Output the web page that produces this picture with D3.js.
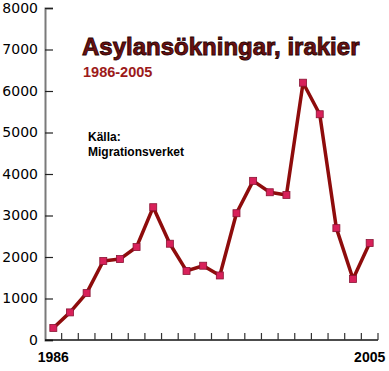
<!DOCTYPE html>
<html>
<head>
<meta charset="utf-8">
<script src="https://cdn.jsdelivr.net/npm/d3@7"></script>
<style>
  body { margin: 0; background: #fff; }
  svg { display: block; }
</style>
</head>
<body>
<div id="chart_div"></div>
<script>
// data
var years = d3.range(1986, 2006);
var applications = [290, 665, 1130, 1905, 1950, 2240, 3200, 2320, 1665, 1790,
                    1555, 3055, 3835, 3560, 3495, 6200, 5440, 2695, 1470, 2335];
var yTicks = [0, 1000, 2000, 3000, 4000, 5000, 6000, 7000, 8000];
var xLabels = [1986, 2005];

var title = 'Asylansökningar, irakier',
    subtitle = '1986-2005',
    source = ['Källa:', 'Migrationsverket'];

function draw_chart(){
  var width = 389, height = 371;
  var plot = {left: 45, right: 378, top: 8, bottom: 340};

  var data = years.map(function(y, i){ return {year: y, value: applications[i]}; });

  var svg = d3.select('#chart_div').append('svg')
    .attr('width', width)
    .attr('height', height);

  var xScale = d3.scaleBand().domain(years).range([plot.left, plot.right]).padding(0);
  var yScale = d3.scaleLinear().domain([0, 8000]).range([plot.bottom, plot.top]);

  // Y axis (ticks point into the plot)
  var yAxis = svg.append('g')
    .attr('class', 'yaxis')
    .attr('transform', 'translate(' + plot.left + ',0)')
    .call(d3.axisLeft(yScale).tickValues(yTicks).tickSize(-8).tickPadding(7).tickFormat(d3.format('d')));

  yAxis.select('path.domain')
    .style('stroke', '#7a7a7a')
    .style('stroke-width', '2px');
  yAxis.selectAll('.tick line')
    .style('stroke', '#222')
    .style('stroke-width', '1.2px');
  yAxis.selectAll('.tick text')
    .style('fill', '#000')
    .style('font-family', '"DejaVu Sans", Verdana, sans-serif')
    .style('font-size', '14px');

  // X axis line + year boundary ticks
  svg.append('line')
    .attr('x1', plot.left).attr('x2', plot.right)
    .attr('y1', plot.bottom).attr('y2', plot.bottom)
    .style('stroke', '#111')
    .style('stroke-width', '1.5px');

  svg.selectAll('line.xtick')
    .data(years)
    .enter().append('line')
    .attr('class', 'xtick')
    .attr('x1', function(d){ return xScale(d) + xScale.bandwidth(); })
    .attr('x2', function(d){ return xScale(d) + xScale.bandwidth(); })
    .attr('y1', plot.bottom)
    .attr('y2', plot.bottom - 7)
    .style('stroke', '#333')
    .style('stroke-width', '1.2px');

  svg.append('g')
    .attr('class', 'xaxis')
    .attr('transform', 'translate(0,' + plot.bottom + ')')
    .call(d3.axisBottom(xScale).tickValues(xLabels).tickSize(0).tickPadding(12))
    .call(function(g){ g.select('path.domain').remove(); })
    .selectAll('text')
    .style('fill', '#000')
    .style('font-family', '"Liberation Sans", Arial, sans-serif')
    .style('font-weight', 'bold')
    .style('font-size', '14px');

  // titles
  svg.append('text')
    .attr('x', 82).attr('y', 55)
    .attr('font-family', '"Liberation Sans", Arial, sans-serif')
    .attr('font-weight', 'bold')
    .attr('font-size', '24px')
    .style('fill', '#6e1010')
    .style('stroke', '#2a0505')
    .style('stroke-width', '0.9px')
    .text(title);

  svg.append('text')
    .attr('x', 83).attr('y', 77)
    .attr('font-family', '"Liberation Sans", Arial, sans-serif')
    .attr('font-weight', 'bold')
    .attr('font-size', '14.5px')
    .style('fill', '#9c1a1a')
    .text(subtitle);

  svg.selectAll('text.source')
    .data(source)
    .enter().append('text')
    .attr('class', 'source')
    .attr('x', 88)
    .attr('y', function(d, i){ return 141 + i * 15; })
    .attr('font-family', '"Liberation Sans", Arial, sans-serif')
    .attr('font-weight', 'bold')
    .attr('font-size', '12px')
    .style('fill', '#000')
    .text(function(d){ return d; });

  // line
  var valueline = d3.line()
    .x(function(d){ return xScale(d.year) + xScale.bandwidth() / 2; })
    .y(function(d){ return yScale(d.value); });

  svg.append('path')
    .datum(data)
    .attr('d', valueline)
    .attr('fill', 'none')
    .style('stroke', '#8e0c0c')
    .style('stroke-width', '3.5px')
    .style('stroke-linejoin', 'round');

  // square markers
  var s = 7;
  svg.selectAll('rect.point')
    .data(data)
    .enter().append('rect')
    .attr('class', 'point')
    .attr('x', function(d){ return xScale(d.year) + xScale.bandwidth() / 2 - s / 2; })
    .attr('y', function(d){ return yScale(d.value) - s / 2; })
    .attr('width', s)
    .attr('height', s)
    .style('fill', '#d8215a')
    .style('stroke', '#8a1535')
    .style('stroke-width', '0.8px');
}

draw_chart();
</script>
</body>
</html>
